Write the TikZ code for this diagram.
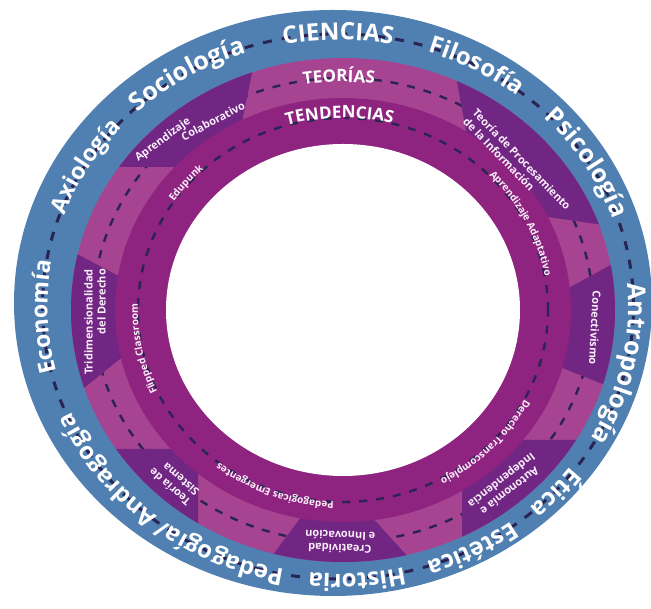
\documentclass[tikz,border=0pt]{standalone}
\usepackage{fontspec}
\setmainfont{Open Sans}
\usetikzlibrary{calc,decorations.text}

\definecolor{ringblue}{RGB}{80,128,177}
\definecolor{teorias}{RGB}{166,68,146}
\definecolor{tendencias}{RGB}{143,36,128}
\definecolor{boxpurple}{RGB}{112,38,130}
\definecolor{dashnavy}{RGB}{42,36,82}
\definecolor{lettering}{RGB}{250,238,250}

\newcommand{\ringfont}[1]{\fontsize{#1}{#1}\selectfont\bfseries\color{white}}
\newcommand{\bandfont}{\fontsize{17}{17}\selectfont\bfseries\color{white}}
\newcommand{\smallfont}{\fontsize{10}{10}\selectfont\bfseries\color{lettering}}
\newcommand{\boxfont}{\fontsize{11}{13}\selectfont\bfseries}

\newlength{\wordw}
\newlength{\wordht}
% word on an elliptic ring: centre, x radius, y radius, angle, ground colour, font, word, inward shift
\newcommand{\ringword}[8]{%
	\settowidth{\wordw}{#6#7}%
	\settoheight{\wordht}{#6E}%
	\pgfmathsetmacro{\wordh}{(0.5*\wordw+5)/(0.5*(#2+#3))*57.2958}%
	\pgfmathsetmacro{\wordsa}{#4+\wordh}%
	\pgfmathsetmacro{\wordea}{#4-\wordh}%
	\pgfmathsetmacro{\wordta}{#4+85}%
	\pgfmathsetmacro{\wordte}{#4-85}%
	\pgfmathsetmacro{\wordrx}{#2-0.42*\wordht-#8}%
	\pgfmathsetmacro{\wordry}{#3-0.42*\wordht-#8}%
	\draw[line width=9pt, #5] ($(#1)+(\wordsa:#2 and #3)$) arc[start angle=\wordsa, end angle=\wordea, x radius=#2, y radius=#3];%
	\path[decorate, decoration={text along path, text align=center, text={|#6|#7}}] ($(#1)+(\wordta:{\wordrx} and {\wordry})$) arc[start angle=\wordta, end angle=\wordte, x radius=\wordrx, y radius=\wordry];%
}

\tikzset{
	ringdash/.style={dashnavy, line width=3pt, dash pattern=on 9pt off 10pt},
	banddash/.style={dashnavy, line width=2.4pt, dash pattern=on 8pt off 9pt},
	boxtext/.style={font=\boxfont, text=lettering, inner sep=0pt, align=center}
}

\begin{document}
\begin{tikzpicture}[x=1pt, y=1pt]
			%%%%% START %%%%%
			\useasboundingbox (0,0) rectangle (651,609);
			
			\coordinate (blue) at (333,306);
			\coordinate (mid) at (338,302.5);
			\coordinate (c) at (343,299);
			
			% blue ring
			\fill[ringblue] (blue) ellipse [x radius=319, y radius=293];
			\draw[ringdash] (mid) ellipse [x radius=295.5, y radius=272.5];
			
			% teorias band
			\fill[teorias] (c) ellipse [x radius=272, y radius=252];
			\draw[banddash] (c) ellipse [x radius=250, y radius=232];
			
			\begin{scope}
				\clip (c) ellipse [x radius=272, y radius=252];
				\fill[boxpurple] (40,442) -- (185,442) -- (234,448) -- (265,600) -- (40,600) -- cycle;
				\fill[boxpurple] (444,600) -- (470.6,452) -- (527,395) -- (680,373) -- (680,600) -- cycle;
				\fill[boxpurple] (545,308) -- (700,393) -- (700,186) -- (555,244) -- cycle;
				\fill[boxpurple] (462,-50) -- (462,150) -- (510,169) -- (700,169) -- (700,-50) -- cycle;
				\fill[boxpurple] (225,-10) -- (309,102.5) -- (359.5,105.5) -- (464.5,-10) -- cycle;
				\fill[boxpurple] (0,160) -- (185,160) -- (198,145) -- (198,-50) -- (0,-50) -- cycle;
				\fill[boxpurple] (0,396) -- (134.5,324.5) -- (133.5,261) -- (0,153) -- cycle;
			\end{scope}
			
			% tendencias band
			\fill[tendencias] (c) ellipse [x radius=228, y radius=212];
			\draw[banddash] (c) ellipse [x radius=205, y radius=192];
			\fill[white] (c) ellipse [x radius=177, y radius=166];
			
			% words of the blue ring
			\ringword{mid}{295.5}{272.5}{90}{ringblue}{\ringfont{24}}{CIENCIAS}{6}
			\ringword{mid}{295.5}{272.5}{60}{ringblue}{\ringfont{24}}{Filosofía}{5}
			\ringword{mid}{295.5}{272.5}{30}{ringblue}{\ringfont{25}}{Psicología}{5}
			\ringword{mid}{295.5}{272.5}{-11.5}{ringblue}{\ringfont{25}}{Antropología}{5}
			\ringword{mid}{295.5}{272.5}{-40.5}{ringblue}{\ringfont{24}}{Ética}{5}
			\ringword{mid}{295.5}{272.5}{-61}{ringblue}{\ringfont{24}}{Estética}{5}
			\ringword{mid}{295.5}{272.5}{-86}{ringblue}{\ringfont{24}}{Historia}{5}
			\ringword{mid}{295.5}{272.5}{-130.5}{ringblue}{\ringfont{24}}{Pedagogía/ Andragogía}{5}
			\ringword{mid}{295.5}{272.5}{182}{ringblue}{\ringfont{23}}{Economía}{5}
			\ringword{mid}{295.5}{272.5}{151}{ringblue}{\ringfont{23}}{Axiología}{5}
			\ringword{mid}{295.5}{272.5}{123}{ringblue}{\ringfont{25}}{Sociología}{5}
			
			% words of the two bands
			\ringword{c}{250}{232}{91}{teorias}{\bandfont}{TEORÍAS}{4}
			\ringword{c}{205}{192}{91}{tendencias}{\bandfont}{TENDENCIAS}{0}
			\ringword{c}{205}{192}{26}{tendencias}{\smallfont}{Aprendizaje Adaptativo}{0}
			\ringword{c}{205}{192}{-43}{tendencias}{\smallfont}{Derecho Transcomplejo}{0}
			\ringword{c}{205}{192}{-111}{tendencias}{\smallfont}{Pedagogicas Emergentes}{0}
			\ringword{c}{205}{192}{191}{tendencias}{\smallfont}{Flipped Classroom}{0}
			\ringword{c}{205}{192}{141}{tendencias}{\smallfont}{Edupunk}{0}
			
			% boxes
			\node[boxtext, rotate=36] (apr) at (163,469) {Aprendizaje};
			\node[boxtext, rotate=28] (col) at (213,488) {Colaborativo};
			\node[boxtext, rotate=-46, align=left, anchor=west] (proc) at (470,494) {Teoría de Procesamiento\\de la Información};
			\node[boxtext, rotate=-93] (con) at (595,281) {Conectivismo};
			\node[boxtext, rotate=-142] (aut) at (505,124) {Autonomía e\\Independencia};
			\node[boxtext, rotate=178] (cre) at (340,67) {Creatividad\\e Innovación};
			\node[boxtext, rotate=139, align=left, anchor=west] (sis) at (193,110) {Teoría de\\Sistema};
			\node[boxtext, rotate=90, align=right] (tri) at (95,287) {Tridimensionalidad\\del Derecho};
			%%%%% END %%%%%
\end{tikzpicture}
\end{document}
